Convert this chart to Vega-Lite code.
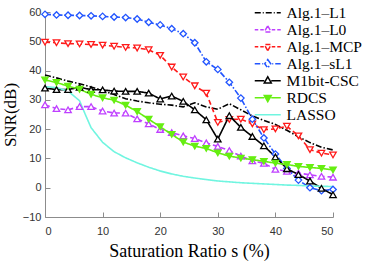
{
  "$schema": "https://vega.github.io/schema/vega-lite/v6.json",
  "width": 288,
  "height": 205,
  "autosize": {"type": "none"},
  "padding": {"left": 45, "top": 12, "right": 41, "bottom": 46},
  "background": "white",
  "config": {
    "view": {"stroke": null},
    "axis": {
      "grid": false,
      "domainColor": "#8c8c8c",
      "tickColor": "#8c8c8c",
      "tickSize": -5,
      "labelColor": "#333333",
      "labelFont": "Liberation Sans",
      "labelFontSize": 11,
      "titleFont": "Liberation Serif, Times New Roman, serif",
      "titleFontSize": 18,
      "titleFontWeight": "normal",
      "titleColor": "black"
    }
  },
  "data": {
    "values": [
      {"s": 0, "L1": 38.5, "L0": 28.3, "MCP": 49.7, "sL1": 59.2, "CSC": 34.0, "RDCS": 36.8, "LASSO": 34.5},
      {"s": 2, "L1": 37.5, "L0": 27.0, "MCP": 49.5, "sL1": 59.0, "CSC": 33.5, "RDCS": 35.9, "LASSO": 34.2},
      {"s": 4, "L1": 36.4, "L0": 26.6, "MCP": 49.2, "sL1": 58.9, "CSC": 33.5, "RDCS": 34.7, "LASSO": 33.0},
      {"s": 6, "L1": 35.5, "L0": 27.7, "MCP": 49.1, "sL1": 58.8, "CSC": 34.3, "RDCS": 33.6, "LASSO": 29.7},
      {"s": 7, "LASSO": 25.0},
      {"s": 8, "L1": 34.4, "L0": 27.7, "MCP": 48.9, "sL1": 58.7, "CSC": 33.5, "RDCS": 31.9, "LASSO": 20.5},
      {"s": 10, "L1": 33.2, "L0": 26.2, "MCP": 48.7, "sL1": 58.5, "CSC": 33.4, "RDCS": 30.7, "LASSO": 15.5},
      {"s": 12, "L1": 31.8, "L0": 25.5, "MCP": 48.3, "sL1": 58.3, "CSC": 33.0, "RDCS": 29.9, "LASSO": 12.3},
      {"s": 14, "L1": 30.4, "L0": 25.5, "MCP": 47.9, "sL1": 58.1, "CSC": 32.9, "RDCS": 28.2, "LASSO": 10.2},
      {"s": 16, "L1": 29.6, "L0": 23.5, "MCP": 47.7, "sL1": 57.6, "CSC": 32.9, "RDCS": 26.0, "LASSO": 8.5},
      {"s": 18, "L1": 29.0, "L0": 21.8, "MCP": 47.1, "sL1": 56.5, "CSC": 32.3, "RDCS": 23.4, "LASSO": 7.0},
      {"s": 20, "L1": 28.5, "L0": 19.9, "MCP": 45.2, "sL1": 55.6, "CSC": 30.3, "RDCS": 20.8, "LASSO": 5.7},
      {"s": 22, "L1": 28.2, "L0": 18.8, "MCP": 41.2, "sL1": 54.3, "CSC": 31.3, "RDCS": 18.2, "LASSO": 4.7},
      {"s": 24, "L1": 27.6, "L0": 17.7, "MCP": 37.8, "sL1": 52.6, "CSC": 29.5, "RDCS": 15.6, "LASSO": 3.9},
      {"s": 26, "L1": 29.0, "L0": 16.8, "MCP": 34.8, "sL1": 49.5, "CSC": 26.6, "RDCS": 14.2, "LASSO": 3.3},
      {"s": 28, "L1": 27.6, "L0": 15.3, "MCP": 32.3, "sL1": 43.0, "CSC": 23.2, "RDCS": 13.4, "LASSO": 2.8},
      {"s": 30, "L1": 26.8, "L0": 14.1, "MCP": 22.3, "sL1": 40.4, "CSC": 16.6, "RDCS": 11.9, "LASSO": 2.3},
      {"s": 32, "L1": 28.7, "L0": 12.7, "MCP": 23.3, "sL1": 36.0, "CSC": 24.6, "RDCS": 10.8, "LASSO": 2.0},
      {"s": 34, "L1": 26.6, "L0": 10.8, "MCP": 23.4, "sL1": 30.6, "CSC": 20.6, "RDCS": 10.1, "LASSO": 1.7},
      {"s": 36, "L1": 24.5, "L0": 9.2, "MCP": 21.8, "sL1": 23.4, "CSC": 17.5, "RDCS": 9.6, "LASSO": 1.5},
      {"s": 38, "L1": 23.0, "L0": 8.3, "MCP": 19.8, "sL1": 17.0, "CSC": 14.3, "RDCS": 9.0, "LASSO": 1.3},
      {"s": 40, "L1": 21.6, "L0": 6.3, "MCP": 20.1, "sL1": 11.5, "CSC": 10.5, "RDCS": 8.4, "LASSO": 1.1},
      {"s": 42, "L1": 19.6, "L0": 5.6, "MCP": 21.0, "sL1": 6.6, "CSC": 6.5, "RDCS": 7.9, "LASSO": 0.9},
      {"s": 44, "L1": 17.4, "L0": 5.0, "MCP": 17.7, "sL1": 2.6, "CSC": 4.5, "RDCS": 7.3, "LASSO": 0.8},
      {"s": 46, "L1": 15.4, "L0": 4.4, "MCP": 13.0, "sL1": 0.0, "CSC": 2.3, "RDCS": 6.9, "LASSO": 0.6},
      {"s": 48, "L1": 13.8, "L0": 3.9, "MCP": 11.8, "sL1": -1.0, "CSC": -0.2, "RDCS": 6.6, "LASSO": 0.5},
      {"s": 50, "L1": 12.9, "L0": 3.6, "MCP": 11.2, "sL1": -0.6, "CSC": -2.4, "RDCS": 6.1, "LASSO": 0.4}
    ]
  },
  "transform": [
    {"fold": ["L1", "L0", "MCP", "sL1", "CSC", "RDCS", "LASSO"], "as": ["m", "v"]},
    {"filter": "isValid(datum.v)"}
  ],
  "encoding": {
    "x": {
      "field": "s", "type": "quantitative",
      "scale": {"domain": [0, 50], "nice": false, "zero": false},
      "axis": {"values": [0, 10, 20, 30, 40, 50], "title": "Saturation Ratio s (%)", "titleFont": "Liberation Serif", "titleFontWeight": "normal", "titleFontSize": 18, "labelPadding": 13, "titlePadding": 6}
    },
    "y": {
      "field": "v", "type": "quantitative",
      "scale": {"domain": [-10, 60], "nice": false, "zero": false},
      "axis": {"values": [-10, 0, 10, 20, 30, 40, 50, 60], "title": "SNR(dB)", "titleFont": "Liberation Serif", "titleFontWeight": "normal", "titleFontSize": 17, "labelPadding": 9, "titlePadding": 3}
    }
  },
  "layer": [
    {
      "mark": {"type": "line", "strokeWidth": 1.6},
      "encoding": {
        "color": {
          "field": "m", "type": "nominal",
          "scale": {
            "domain": ["L1", "L0", "MCP", "sL1", "CSC", "RDCS", "LASSO"],
            "range": ["#000000", "#bf40ff", "#ff1a1a", "#2255ff", "#000000", "#66ee11", "#70f5e0"]
          },
          "legend": {
            "orient": "none",
            "legendX": 215,
            "legendY": -7,
            "title": null,
            "padding": 0,
            "rowPadding": 0,
            "symbolSize": 100,
            "symbolStrokeWidth": 1.5,
            "labelOffset": 11,
            "labelFont": "Liberation Serif, Times New Roman, serif",
            "labelFontSize": 15.5,
            "labelColor": "black",
            "labelExpr": "{'L1':'Alg.1–L1','L0':'Alg.1–L0','MCP':'Alg.1–MCP','sL1':'Alg.1–sL1','CSC':'M1bit-CSC','RDCS':'RDCS','LASSO':'LASSO'}[datum.label]",
            "encode": {
              "symbols": {
                "update": {
                  "shape": {"signal": "['M-2.6,0H-1.4M-1,0H-0.8M-0.4,0H0.8M1.2,0H1.4M1.8,0H2.6','M-2.6,0H-1.9M-1.5,0H-0.8M0.8,0H1.5M1.9,0H2.6M0,-0.8L0.7,0.45L-0.7,0.45Z','M-2.6,0H-1.9M-1.5,0H-0.8M0.8,0H1.5M1.9,0H2.6M0,0.8L0.7,-0.45L-0.7,-0.45Z','M-2.6,0H-1.5M-1.1,0H-0.9M0.9,0H1.1M1.5,0H2.6M0,-0.85L0.6,0L0,0.85L-0.6,0Z','M-2.6,0H-0.7M0.7,0H2.6M0,-0.8L0.7,0.45L-0.7,0.45Z','M-2.6,0H-0.7M0.7,0H2.6M0,0.8L0.7,-0.45L-0.7,-0.45Z','M-2.6,0H2.6'][indexof(['L1','L0','MCP','sL1','CSC','RDCS','LASSO'], datum.value)]"},
                  "fill": {"signal": "datum.value === 'RDCS' ? '#66ee11' : 'white'"},
                  "stroke": {"scale": "color", "field": "value"},
                  "strokeDash": {"value": []},
                  "strokeWidth": {"value": 1.5},
                  "opacity": {"value": 1}
                }
              }
            }
          }
        },
        "strokeDash": {
          "field": "m", "type": "nominal",
          "scale": {
            "domain": ["L1", "L0", "MCP", "sL1", "CSC", "RDCS", "LASSO"],
            "range": [[6, 2, 1.5, 2], [5, 3], [5, 3], [6, 2, 1.5, 2], [1, 0], [1, 0], [1, 0]]
          },
          "legend": null
        }
      }
    },
    {
      "transform": [{"filter": "datum.m !== 'L1' && datum.m !== 'LASSO'"}],
      "mark": {"type": "point", "size": 42, "strokeWidth": 1.3, "filled": false, "opacity": 1},
      "encoding": {
        "shape": {
          "field": "m", "type": "nominal",
          "scale": {
            "domain": ["L0", "MCP", "sL1", "CSC", "RDCS"],
            "range": ["triangle-up", "triangle-down", "diamond", "triangle-up", "triangle-down"]
          },
          "legend": null
        },
        "stroke": {
          "field": "m", "type": "nominal",
          "scale": {
            "domain": ["L0", "MCP", "sL1", "CSC", "RDCS"],
            "range": ["#bf40ff", "#ff1a1a", "#2255ff", "#000000", "#66ee11"]
          },
          "legend": null
        },
        "fill": {
          "field": "m", "type": "nominal",
          "scale": {
            "domain": ["L0", "MCP", "sL1", "CSC", "RDCS"],
            "range": ["#ffffff", "#ffffff", "#ffffff", "#ffffff", "#66ee11"]
          },
          "legend": null
        }
      }
    }
  ]
}
